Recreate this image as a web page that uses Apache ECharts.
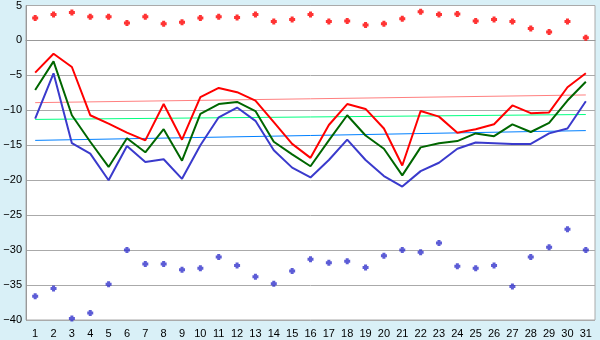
<!DOCTYPE html>
<html>
<head>
<meta charset="utf-8">
<script src="https://cdn.jsdelivr.net/npm/echarts@6/dist/echarts.min.js"></script>
<style>
  html, body { margin: 0; padding: 0; background: #d9f0f7; }
  #chart { width: 600px; height: 340px; }
</style>
</head>
<body>
<div id="chart"></div>
<script>
// days of the month
const days = []
for (let d = 1; d <= 31; d++) days.push(String(d))

// daily max / mean / min
const maxTemp = [-4.6, -1.9, -3.8, -10.7, -11.9, -13.2, -14.3, -9.1, -14.2, -8.1,
  -6.8, -7.4, -8.6, -11.7, -14.8, -16.8, -12.1, -9.1, -9.8, -12.6,
  -17.9, -10.1, -10.9, -13.2, -12.7, -12.0, -9.3, -10.4, -10.3, -6.7, -4.7]
const meanTemp = [-7.1, -3.0, -10.7, -14.5, -18.1, -14.0, -16.0, -12.7, -17.2, -10.5,
  -9.1, -8.8, -10.1, -14.5, -16.3, -18.0, -14.3, -10.7, -13.6, -15.5,
  -19.3, -15.3, -14.7, -14.4, -13.3, -13.7, -12.0, -13.1, -11.8, -8.6, -5.9]
const minTemp = [-11.2, -4.7, -14.7, -16.2, -20.0, -15.1, -17.4, -17.0, -19.8, -15.0,
  -11.0, -9.6, -11.5, -15.7, -18.2, -19.6, -17.1, -14.2, -17.1, -19.4,
  -20.9, -18.7, -17.5, -15.5, -14.6, -14.7, -14.8, -14.8, -13.3, -12.6, -8.7]

// record highs / lows
const recordHigh = [3.2, 3.7, 4.0, 3.4, 3.4, 2.5, 3.4, 2.4, 2.6, 3.2,
  3.4, 3.3, 3.7, 2.7, 3.0, 3.7, 2.7, 2.8, 2.2, 2.4,
  3.1, 4.1, 3.7, 3.8, 2.8, 3.0, 2.7, 1.7, 1.2, 2.7, 0.4]
const recordLow = [-36.6, -35.5, -39.8, -39.0, -34.9, -30.0, -32.0, -32.0, -32.8, -32.6,
  -31.0, -32.2, -33.8, -34.8, -33.0, -31.3, -31.8, -31.6, -32.5, -30.8,
  -30.0, -30.3, -29.0, -32.3, -32.6, -32.2, -35.2, -31.0, -29.6, -27.0, -30.0]

// long-term trend lines (first day, last day)
const trendDays = ['1', '31']
const trendMax = [-8.9, -7.8]
const trendMean = [-11.3, -10.6]
const trendMin = [-14.3, -12.9]

const chart = echarts.init(document.getElementById('chart'))

const font = { fontFamily: 'Liberation Sans', fontSize: 11, color: '#000' }
// fat plus used for the record markers
const plusMark = 'path://M1,0H3V1H4V3H3V4H1V3H0V1H1Z'

function trend(vals, color) {
  return {
    type: 'line',
    data: trendDays.map((d, i) => [d, vals[i]]),
    symbol: 'none',
    silent: true,
    lineStyle: { color: color, width: 1 },
    z: 1
  }
}

function mainLine(vals, color) {
  return {
    type: 'line',
    data: vals,
    symbol: 'none',
    lineStyle: { color: color, width: 2 },
    z: 3
  }
}

function dots(vals, color) {
  return {
    type: 'scatter',
    data: vals,
    symbol: plusMark,
    symbolSize: 6,
    itemStyle: { color: color },
    z: 4
  }
}

chart.setOption({
  animation: false,
  backgroundColor: '#d9f0f7',
  grid: {
    left: 26, right: 5, top: 5, bottom: 20,
    show: true,
    backgroundColor: '#ffffff',
    borderColor: '#aaaaaa',
    borderWidth: 1
  },
  xAxis: {
    type: 'category',
    data: days,
    boundaryGap: true,
    axisLine: { lineStyle: { color: '#999999' } },
    axisTick: { alignWithLabel: true, length: 5, lineStyle: { color: '#333' } },
    axisLabel: { ...font, margin: 8, interval: 0 },
    splitLine: { show: false }
  },
  yAxis: {
    type: 'value',
    min: -40, max: 5, interval: 5,
    axisLine: { show: true, lineStyle: { color: '#999999' } },
    axisTick: { show: false },
    axisLabel: { ...font, margin: 4, formatter: v => String(v).replace('-', '\u2212') },
    splitLine: { lineStyle: { color: '#aaaaaa', width: 1 } }
  },
  series: [
    trend(trendMax, '#ff8080'),
    trend(trendMean, '#00ff80'),
    trend(trendMin, '#0080ff'),
    mainLine(minTemp, '#3a3acc'),
    mainLine(meanTemp, '#006600'),
    mainLine(maxTemp, '#ff0000'),
    dots(recordHigh, '#ff0000'),
    dots(recordLow, '#3333cc')
  ]
})
</script>
</body>
</html>
